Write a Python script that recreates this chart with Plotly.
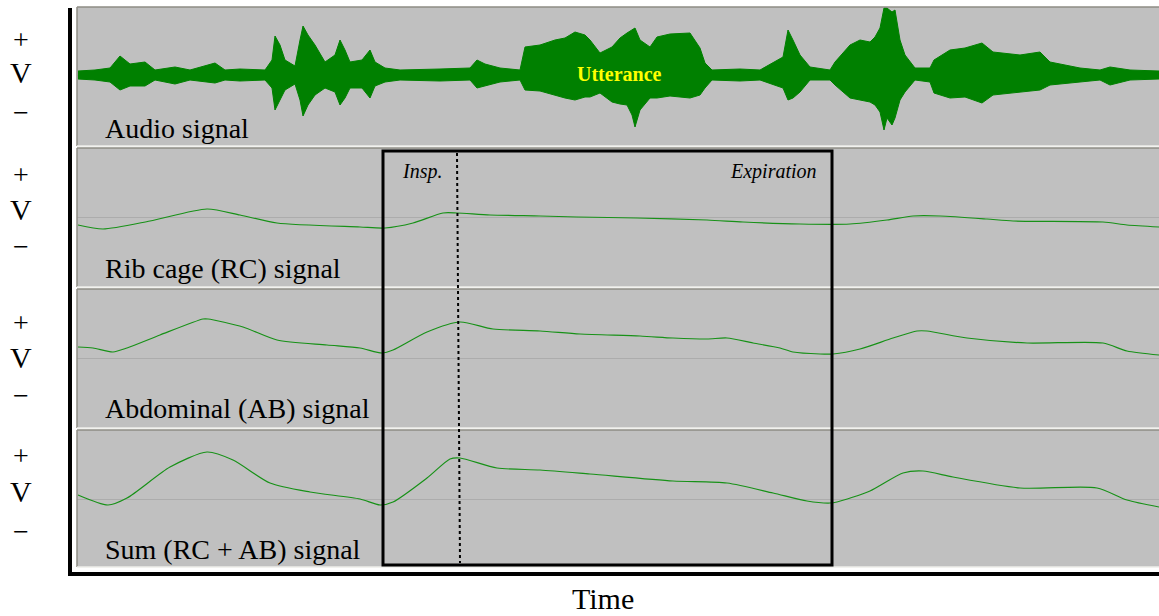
import plotly.graph_objects as go

# ---------------- data ----------------
# time axis in arbitrary sample units (0 .. 1082)
audio_time = [1, 18, 33, 43, 53, 68, 78, 98, 113, 138,
              148, 163, 188, 195, 198, 203, 208, 218, 223, 226,
              231, 238, 248, 258, 263, 268, 273, 285, 293, 298,
              308, 323, 363, 393, 400, 408, 423, 443, 448, 463,
              478, 488, 498, 508, 513, 523, 535, 543, 550, 555,
              558, 563, 573, 580, 593, 613, 623, 628, 635, 663,
              683, 706, 711, 716, 723, 733, 753, 758, 773, 783,
              793, 798, 803, 807, 810, 815, 818, 823, 828, 838,
              853, 857, 873, 888, 905, 916, 943, 963, 973, 1003,
              1023, 1033, 1053, 1082]
audio_upper = [4, 5, 7, 19, 11, 13, 5, 8, 5, 12,
               5, 6, 5, 15, 39, 30, 15, 9, 35, 49,
               40, 30, 13, 20, 35, 25, 13, 15, 25, 13,
               7, 5, 6, 7, 15, 11, 7, 5, 28, 30,
               35, 37, 43, 40, 35, 22, 28, 37, 42, 45,
               47, 35, 28, 38, 41, 42, 27, 12, 5, 6,
               5, 18, 45, 35, 20, 8, 5, 13, 30, 35,
               33, 38, 47, 67, 67, 63, 65, 35, 20, 7,
               7, 15, 25, 27, 32, 23, 20, 23, 13, 7,
               5, 8, 5, 4]
audio_lower = [-4, -5, -7, -15, -11, -11, -5, -9, -5, -8,
               -5, -6, -5, -13, -35, -25, -15, -9, -25, -41,
               -30, -20, -13, -17, -30, -23, -13, -13, -23, -11,
               -7, -5, -6, -5, -13, -11, -7, -5, -15, -16,
               -20, -23, -25, -22, -22, -18, -27, -29, -30, -40,
               -52, -35, -23, -23, -21, -23, -20, -13, -5, -6,
               -5, -13, -25, -23, -17, -5, -5, -10, -23, -25,
               -27, -30, -37, -55, -43, -50, -43, -25, -17, -5,
               -7, -18, -23, -22, -28, -20, -17, -15, -10, -7,
               -5, -10, -5, -4]

rc_time = [1, 26, 73, 130, 163, 200, 283, 308, 336, 366, 380, 413, 463, 500,
           560, 630, 666, 723, 773, 810, 836, 863, 910, 936, 1026, 1050, 1082]
rc_value = [-8, -12, -4, 8, 2, -6, -10, -11, -6, 4, 4, 2, 1, 0,
            -1, -3, -5, -7, -7, -3, 1, 1, -2, -4, -5, -8, -10]

ab_time = [1, 16, 36, 50, 83, 126, 131, 166, 200, 250, 283, 305, 316, 350, 383,
           416, 463, 503, 563, 596, 630, 650, 676, 703, 716, 743, 756, 783, 816,
           840, 850, 890, 950, 1026, 1050, 1082]
ab_value = [11, 10, 6, 10, 23, 39, 39, 31, 18, 13, 10, 5, 8, 26, 36,
            29, 27, 24, 22, 20, 19, 20, 15, 10, 6, 4, 4, 9, 20,
            27, 27, 20, 15, 15, 7, 3]

sum_time = [1, 31, 50, 93, 130, 156, 193, 233, 283, 303, 316, 350, 373, 383,
            420, 463, 513, 596, 650, 696, 730, 753, 760, 793, 826, 846, 876,
            943, 1020, 1050, 1082]
sum_value = [4, -6, 1, 32, 47, 39, 16, 7, 0, -6, -3, 21, 40, 41,
             31, 29, 25, 18, 16, 6, -2, -4, -3, 8, 26, 28, 22,
             11, 11, -1, -8]

panel_titles = ["Audio signal", "Rib cage (RC) signal",
                "Abdominal (AB) signal", "Sum (RC + AB) signal"]
breath_window = [306, 755]      # start / end of the boxed breath (time units)
insp_end = [380, 383]           # dotted boundary between inspiration and expiration

# ---------------- layout helpers ----------------
W, H = 1159, 616
def py(p):  # pixel row -> paper y
    return 1 - p / H
def px(p):  # pixel column -> paper x
    return p / W

SERIF = "Liberation Serif"
GREEN = "#008000"
LINE_GREEN = "#179117"

panels = [  # (top px, bottom px, y range)
    (7, 146, [-71, 68]),
    (148, 287, [-70, 69]),
    (289, 428, [-70, 69]),
    (430, 567, [-68, 69]),
]

fig = go.Figure()

# audio as filled envelope
fig.add_trace(go.Scatter(
    x=audio_time + audio_time[::-1],
    y=audio_upper + audio_lower[::-1],
    fill="toself", fillcolor=GREEN, mode="lines",
    line=dict(color=GREEN, width=1), yaxis="y", hoverinfo="skip"))

for t, v, ax in [(rc_time, rc_value, "y2"), (ab_time, ab_value, "y3"),
                 (sum_time, sum_value, "y4")]:
    fig.add_trace(go.Scatter(x=t, y=v, mode="lines", yaxis=ax,
                             line=dict(color=LINE_GREEN, width=1.2,
                                       shape="spline", smoothing=0.7),
                             hoverinfo="skip"))

layout = dict(
    width=W, height=H, margin=dict(l=0, r=0, t=0, b=0),
    paper_bgcolor="white", plot_bgcolor="#c0c0c0", showlegend=False,
    xaxis=dict(domain=[px(77), 1], range=[0, 1082], showgrid=False,
               zeroline=False, showticklabels=False, ticks="", fixedrange=True),
)
for i, (top, bot, rng) in enumerate(panels):
    name = "yaxis" if i == 0 else f"yaxis{i+1}"
    layout[name] = dict(domain=[py(bot), py(top)], range=rng, anchor="x",
                        showgrid=False, showticklabels=False, ticks="",
                        zeroline=True, zerolinecolor="#acacac", zerolinewidth=1,
                        fixedrange=True)
fig.update_layout(**layout)

shapes = []
for top, bot, _ in panels:
    # panel bevel: dark top/left, light bottom
    shapes.append(dict(type="line", xref="paper", yref="paper",
                       x0=px(77), x1=1, y0=py(top), y1=py(top),
                       line=dict(color="#8e8c84", width=1.5)))
    shapes.append(dict(type="line", xref="paper", yref="paper",
                       x0=px(77), x1=px(77), y0=py(bot), y1=py(top),
                       line=dict(color="#8e8c84", width=1.5)))
    shapes.append(dict(type="line", xref="paper", yref="paper",
                       x0=px(77), x1=1, y0=py(bot), y1=py(bot),
                       line=dict(color="#eeeeea", width=1.5)))

# thick axes
shapes.append(dict(type="line", xref="paper", yref="paper",
                   x0=px(70), x1=px(70), y0=py(8), y1=py(576),
                   line=dict(color="black", width=4)))
shapes.append(dict(type="line", xref="paper", yref="paper",
                   x0=px(68), x1=1, y0=py(574), y1=py(574),
                   line=dict(color="black", width=4)))
# breath window box
shapes.append(dict(type="rect", xref="x", yref="paper",
                   x0=breath_window[0], x1=breath_window[1],
                   y0=py(565), y1=py(151),
                   line=dict(color="black", width=3)))
# inspiration / expiration boundary
shapes.append(dict(type="line", xref="x", yref="paper",
                   x0=insp_end[0], x1=insp_end[1], y0=py(153), y1=py(563),
                   line=dict(color="black", width=2, dash="dot")))
fig.update_layout(shapes=shapes)

ann = []
label_rows = [128, 268, 408, 549]
for title, row in zip(panel_titles, label_rows):
    ann.append(dict(text=title, x=px(103), y=py(row), xref="paper", yref="paper",
                    xanchor="left", yanchor="middle", showarrow=False,
                    font=dict(family=SERIF, size=28, color="black")))

pvm_rows = [(39, 73, 113), (174, 209, 246), (322, 357, 395), (455, 491, 531)]
for plus_r, v_r, minus_r in pvm_rows:
    ann.append(dict(text="+", x=px(21), y=py(plus_r), xref="paper", yref="paper",
                    xanchor="center", yanchor="middle", showarrow=False,
                    font=dict(family=SERIF, size=28, color="black")))
    ann.append(dict(text="V", x=px(21), y=py(v_r), xref="paper", yref="paper",
                    xanchor="center", yanchor="middle", showarrow=False,
                    font=dict(family=SERIF, size=30, color="black")))
    ann.append(dict(text="\u2212", x=px(21), y=py(minus_r), xref="paper", yref="paper",
                    xanchor="center", yanchor="middle", showarrow=False,
                    font=dict(family=SERIF, size=28, color="black")))

ann.append(dict(text="<i>Insp.</i>", x=px(422), y=py(171), xref="paper", yref="paper",
                xanchor="center", yanchor="middle", showarrow=False,
                font=dict(family=SERIF, size=20, color="black")))
ann.append(dict(text="<i>Expiration</i>", x=px(819), y=py(171), xref="paper", yref="paper",
                xanchor="right", yanchor="middle", showarrow=False,
                font=dict(family=SERIF, size=20, color="black")))
ann.append(dict(text="<b>Utterance</b>", x=px(619), y=py(74), xref="paper", yref="paper",
                xanchor="center", yanchor="middle", showarrow=False,
                font=dict(family=SERIF, size=20, color="#ffff00")))
ann.append(dict(text="Time", x=px(603), y=py(598), xref="paper", yref="paper",
                xanchor="center", yanchor="middle", showarrow=False,
                font=dict(family=SERIF, size=30, color="black")))
fig.update_layout(annotations=ann)

fig.write_html("out.html", config={"displayModeBar": False},
               post_script="document.body.style.margin='0';")
